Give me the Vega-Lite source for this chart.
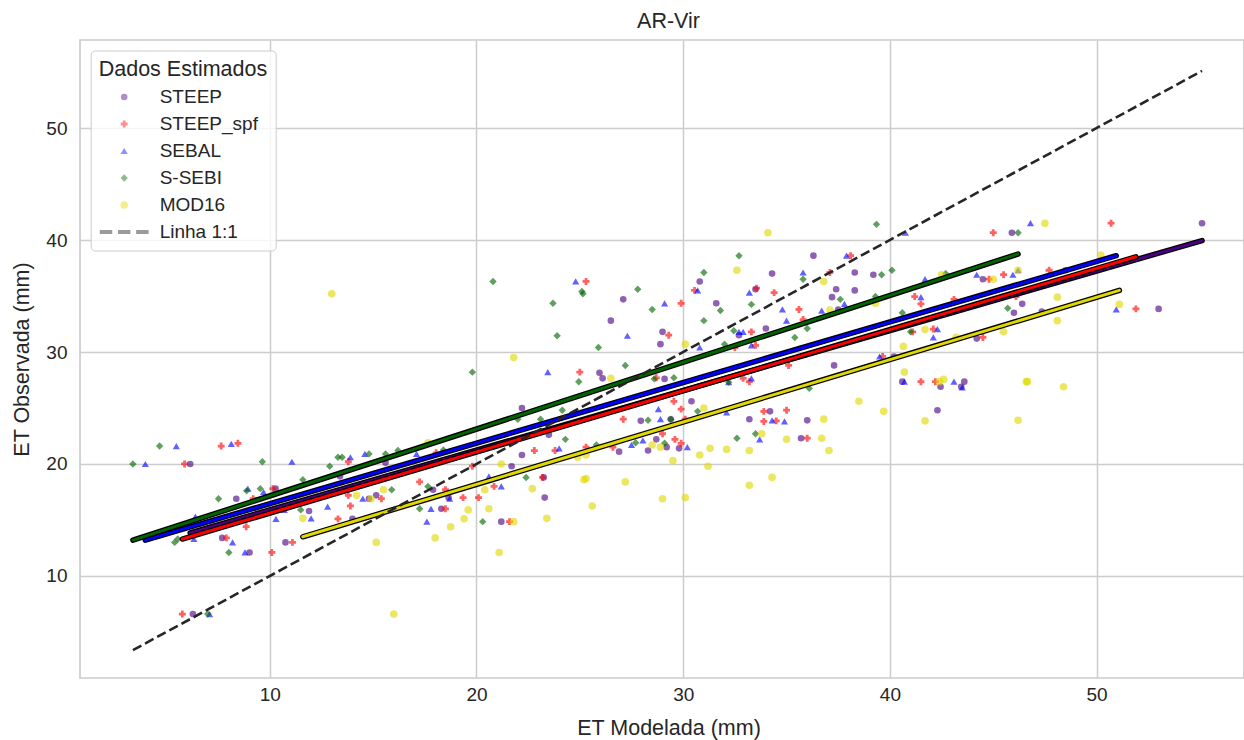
{
"$schema": "https://vega.github.io/schema/vega-lite/v6.json",
"width": 1164, "height": 638,
"autosize": {"type": "none"},
"padding": {"left": 80, "top": 40, "right": 0, "bottom": 62},
"background": "white",
"title": {"text": "AR-Vir", "fontSize": 21.5, "font": "Liberation Sans", "fontWeight": "normal", "color": "#262626", "offset": 8, "dx": 6.5},
"config": {
  "view": {"stroke": "#cccccc", "strokeWidth": 1.7},
  "axis": {"grid": true, "gridColor": "#cccccc", "gridWidth": 1.5, "domain": false, "ticks": false, "tickSize": 0,
    "labelFont": "Liberation Sans", "labelFontSize": 19, "labelColor": "#262626",
    "titleFont": "Liberation Sans", "titleFontSize": 21.5, "titleFontWeight": "normal", "titleColor": "#262626"}
},
"datasets": {
"pts": [
{"s":"STEEP","x":6.28,"y":6.6},{"s":"STEEP","x":6.15,"y":20.0},{"s":"STEEP","x":7.7,"y":13.4},{"s":"STEEP","x":8.38,"y":16.9},{"s":"STEEP","x":9.02,"y":12.1},{"s":"STEEP","x":10.28,"y":17.8},{"s":"STEEP","x":10.76,"y":13.0},{"s":"STEEP","x":11.9,"y":15.8},{"s":"STEEP","x":13.4,"y":18.9},{"s":"STEEP","x":14.0,"y":15.1},{"s":"STEEP","x":14.8,"y":16.9},{"s":"STEEP","x":15.15,"y":17.2},{"s":"STEEP","x":15.6,"y":20.1},{"s":"STEEP","x":17.9,"y":17.7},{"s":"STEEP","x":18.3,"y":16.0},{"s":"STEEP","x":18.65,"y":17.0},{"s":"STEEP","x":21.2,"y":14.85},{"s":"STEEP","x":21.7,"y":19.8},{"s":"STEEP","x":22.2,"y":20.8},{"s":"STEEP","x":22.2,"y":25.0},{"s":"STEEP","x":23.25,"y":18.8},{"s":"STEEP","x":23.3,"y":17.0},{"s":"STEEP","x":23.5,"y":22.6},{"s":"STEEP","x":25.95,"y":28.15},{"s":"STEEP","x":26.1,"y":27.65},{"s":"STEEP","x":26.5,"y":32.8},{"s":"STEEP","x":26.9,"y":21.1},{"s":"STEEP","x":27.1,"y":34.7},{"s":"STEEP","x":27.95,"y":23.85},{"s":"STEEP","x":28.3,"y":21.2},{"s":"STEEP","x":28.7,"y":22.2},{"s":"STEEP","x":28.9,"y":30.7},{"s":"STEEP","x":29.0,"y":31.8},{"s":"STEEP","x":29.1,"y":27.6},{"s":"STEEP","x":29.2,"y":21.5},{"s":"STEEP","x":29.4,"y":24.0},{"s":"STEEP","x":29.8,"y":21.4},{"s":"STEEP","x":30.4,"y":25.6},{"s":"STEEP","x":30.8,"y":36.3},{"s":"STEEP","x":31.6,"y":34.35},{"s":"STEEP","x":32.7,"y":31.5},{"s":"STEEP","x":33.2,"y":24.0},{"s":"STEEP","x":33.5,"y":35.6},{"s":"STEEP","x":34.0,"y":32.1},{"s":"STEEP","x":34.2,"y":24.7},{"s":"STEEP","x":34.3,"y":37.0},{"s":"STEEP","x":35.7,"y":22.3},{"s":"STEEP","x":36.0,"y":23.9},{"s":"STEEP","x":36.3,"y":38.6},{"s":"STEEP","x":37.2,"y":34.9},{"s":"STEEP","x":37.3,"y":28.8},{"s":"STEEP","x":37.4,"y":35.6},{"s":"STEEP","x":37.5,"y":33.8},{"s":"STEEP","x":38.3,"y":35.5},{"s":"STEEP","x":38.3,"y":37.1},{"s":"STEEP","x":39.2,"y":36.9},{"s":"STEEP","x":40.2,"y":29.6},{"s":"STEEP","x":40.6,"y":27.35},{"s":"STEEP","x":42.3,"y":24.8},{"s":"STEEP","x":42.45,"y":26.9},{"s":"STEEP","x":43.45,"y":26.9},{"s":"STEEP","x":43.6,"y":27.35},{"s":"STEEP","x":44.2,"y":31.2},{"s":"STEEP","x":44.5,"y":36.5},{"s":"STEEP","x":45.9,"y":40.65},{"s":"STEEP","x":46.0,"y":33.5},{"s":"STEEP","x":46.4,"y":34.3},{"s":"STEEP","x":47.35,"y":33.6},{"s":"STEEP","x":48.5,"y":37.3},{"s":"STEEP","x":53.0,"y":33.85},{"s":"STEEP","x":55.1,"y":41.5},
{"s":"STEEP_spf","x":5.77,"y":6.6},{"s":"STEEP_spf","x":5.88,"y":20.0},{"s":"STEEP_spf","x":7.65,"y":21.6},{"s":"STEEP_spf","x":8.46,"y":21.85},{"s":"STEEP_spf","x":7.9,"y":13.4},{"s":"STEEP_spf","x":8.86,"y":14.4},{"s":"STEEP_spf","x":9.2,"y":16.9},{"s":"STEEP_spf","x":10.1,"y":12.1},{"s":"STEEP_spf","x":10.15,"y":17.8},{"s":"STEEP_spf","x":11.1,"y":13.0},{"s":"STEEP_spf","x":13.3,"y":15.1},{"s":"STEEP_spf","x":13.8,"y":17.2},{"s":"STEEP_spf","x":13.8,"y":20.2},{"s":"STEEP_spf","x":13.9,"y":16.25},{"s":"STEEP_spf","x":15.4,"y":16.9},{"s":"STEEP_spf","x":17.25,"y":18.4},{"s":"STEEP_spf","x":18.05,"y":21.0},{"s":"STEEP_spf","x":18.5,"y":17.7},{"s":"STEEP_spf","x":18.5,"y":16.0},{"s":"STEEP_spf","x":19.35,"y":17.0},{"s":"STEEP_spf","x":19.8,"y":19.8},{"s":"STEEP_spf","x":20.1,"y":17.0},{"s":"STEEP_spf","x":20.85,"y":18.0},{"s":"STEEP_spf","x":21.6,"y":14.85},{"s":"STEEP_spf","x":22.8,"y":21.2},{"s":"STEEP_spf","x":23.2,"y":18.8},{"s":"STEEP_spf","x":23.8,"y":21.2},{"s":"STEEP_spf","x":25.0,"y":28.2},{"s":"STEEP_spf","x":25.3,"y":21.5},{"s":"STEEP_spf","x":25.3,"y":36.3},{"s":"STEEP_spf","x":26.6,"y":21.5},{"s":"STEEP_spf","x":27.1,"y":24.0},{"s":"STEEP_spf","x":28.7,"y":27.7},{"s":"STEEP_spf","x":29.0,"y":22.7},{"s":"STEEP_spf","x":29.3,"y":31.5},{"s":"STEEP_spf","x":29.55,"y":25.6},{"s":"STEEP_spf","x":29.6,"y":22.2},{"s":"STEEP_spf","x":29.9,"y":34.35},{"s":"STEEP_spf","x":29.9,"y":24.9},{"s":"STEEP_spf","x":29.9,"y":21.85},{"s":"STEEP_spf","x":30.1,"y":24.0},{"s":"STEEP_spf","x":30.55,"y":35.5},{"s":"STEEP_spf","x":32.5,"y":30.4},{"s":"STEEP_spf","x":32.9,"y":27.65},{"s":"STEEP_spf","x":33.2,"y":27.35},{"s":"STEEP_spf","x":33.3,"y":31.8},{"s":"STEEP_spf","x":33.5,"y":30.6},{"s":"STEEP_spf","x":33.55,"y":35.7},{"s":"STEEP_spf","x":33.9,"y":24.7},{"s":"STEEP_spf","x":33.9,"y":23.8},{"s":"STEEP_spf","x":34.4,"y":35.3},{"s":"STEEP_spf","x":34.5,"y":23.85},{"s":"STEEP_spf","x":35.0,"y":24.8},{"s":"STEEP_spf","x":35.1,"y":28.8},{"s":"STEEP_spf","x":35.6,"y":33.8},{"s":"STEEP_spf","x":35.8,"y":32.9},{"s":"STEEP_spf","x":36.0,"y":22.3},{"s":"STEEP_spf","x":37.1,"y":37.1},{"s":"STEEP_spf","x":38.1,"y":38.6},{"s":"STEEP_spf","x":39.65,"y":29.6},{"s":"STEEP_spf","x":41.2,"y":34.95},{"s":"STEEP_spf","x":41.5,"y":34.3},{"s":"STEEP_spf","x":41.1,"y":31.8},{"s":"STEEP_spf","x":41.5,"y":27.35},{"s":"STEEP_spf","x":42.1,"y":32.05},{"s":"STEEP_spf","x":42.2,"y":27.35},{"s":"STEEP_spf","x":43.1,"y":34.7},{"s":"STEEP_spf","x":44.5,"y":31.3},{"s":"STEEP_spf","x":44.8,"y":36.5},{"s":"STEEP_spf","x":45.0,"y":40.65},{"s":"STEEP_spf","x":45.5,"y":36.9},{"s":"STEEP_spf","x":46.1,"y":34.95},{"s":"STEEP_spf","x":47.7,"y":37.3},{"s":"STEEP_spf","x":50.7,"y":41.5},{"s":"STEEP_spf","x":51.9,"y":33.85},
{"s":"SEBAL","x":3.98,"y":20.0},{"s":"SEBAL","x":5.48,"y":21.6},{"s":"SEBAL","x":8.14,"y":21.8},{"s":"SEBAL","x":7.09,"y":6.6},{"s":"SEBAL","x":8.2,"y":13.0},{"s":"SEBAL","x":8.8,"y":12.1},{"s":"SEBAL","x":8.94,"y":17.8},{"s":"SEBAL","x":9.7,"y":17.5},{"s":"SEBAL","x":6.33,"y":13.3},{"s":"SEBAL","x":6.4,"y":15.3},{"s":"SEBAL","x":10.3,"y":15.1},{"s":"SEBAL","x":10.7,"y":15.9},{"s":"SEBAL","x":11.07,"y":20.2},{"s":"SEBAL","x":12.0,"y":15.15},{"s":"SEBAL","x":12.8,"y":16.2},{"s":"SEBAL","x":13.9,"y":20.6},{"s":"SEBAL","x":14.5,"y":16.9},{"s":"SEBAL","x":14.6,"y":20.9},{"s":"SEBAL","x":17.1,"y":20.9},{"s":"SEBAL","x":17.6,"y":14.85},{"s":"SEBAL","x":17.8,"y":16.0},{"s":"SEBAL","x":18.7,"y":16.9},{"s":"SEBAL","x":20.6,"y":18.9},{"s":"SEBAL","x":21.2,"y":18.0},{"s":"SEBAL","x":23.45,"y":28.2},{"s":"SEBAL","x":24.0,"y":21.4},{"s":"SEBAL","x":24.8,"y":36.3},{"s":"SEBAL","x":27.3,"y":31.45},{"s":"SEBAL","x":27.5,"y":21.7},{"s":"SEBAL","x":28.05,"y":22.1},{"s":"SEBAL","x":28.8,"y":24.9},{"s":"SEBAL","x":28.9,"y":24.0},{"s":"SEBAL","x":29.1,"y":34.35},{"s":"SEBAL","x":30.2,"y":21.5},{"s":"SEBAL","x":30.7,"y":35.5},{"s":"SEBAL","x":30.8,"y":30.4},{"s":"SEBAL","x":32.1,"y":24.6},{"s":"SEBAL","x":32.2,"y":27.3},{"s":"SEBAL","x":32.7,"y":31.8},{"s":"SEBAL","x":32.9,"y":31.8},{"s":"SEBAL","x":33.2,"y":35.3},{"s":"SEBAL","x":33.3,"y":30.6},{"s":"SEBAL","x":33.3,"y":27.65},{"s":"SEBAL","x":33.7,"y":22.2},{"s":"SEBAL","x":34.3,"y":23.9},{"s":"SEBAL","x":34.8,"y":33.8},{"s":"SEBAL","x":34.9,"y":23.8},{"s":"SEBAL","x":35.0,"y":32.8},{"s":"SEBAL","x":35.8,"y":37.1},{"s":"SEBAL","x":36.7,"y":33.7},{"s":"SEBAL","x":37.8,"y":34.3},{"s":"SEBAL","x":37.9,"y":38.6},{"s":"SEBAL","x":39.5,"y":29.6},{"s":"SEBAL","x":40.7,"y":27.35},{"s":"SEBAL","x":40.75,"y":40.65},{"s":"SEBAL","x":41.5,"y":34.9},{"s":"SEBAL","x":41.7,"y":36.5},{"s":"SEBAL","x":42.1,"y":31.3},{"s":"SEBAL","x":42.3,"y":32.05},{"s":"SEBAL","x":43.1,"y":27.35},{"s":"SEBAL","x":43.5,"y":26.85},{"s":"SEBAL","x":44.2,"y":36.9},{"s":"SEBAL","x":45.95,"y":36.9},{"s":"SEBAL","x":46.2,"y":37.3},{"s":"SEBAL","x":46.8,"y":41.5},{"s":"SEBAL","x":50.95,"y":33.8},
{"s":"S-SEBI","x":3.38,"y":20.0},{"s":"S-SEBI","x":4.67,"y":21.6},{"s":"S-SEBI","x":7.0,"y":6.6},{"s":"S-SEBI","x":5.4,"y":13.0},{"s":"S-SEBI","x":5.55,"y":13.3},{"s":"S-SEBI","x":7.52,"y":16.9},{"s":"S-SEBI","x":8.02,"y":12.1},{"s":"S-SEBI","x":8.88,"y":17.6},{"s":"S-SEBI","x":9.54,"y":17.8},{"s":"S-SEBI","x":9.64,"y":20.2},{"s":"S-SEBI","x":11.5,"y":15.9},{"s":"S-SEBI","x":11.6,"y":18.6},{"s":"S-SEBI","x":12.9,"y":19.8},{"s":"S-SEBI","x":13.3,"y":20.6},{"s":"S-SEBI","x":13.5,"y":20.6},{"s":"S-SEBI","x":14.8,"y":20.9},{"s":"S-SEBI","x":15.6,"y":20.9},{"s":"S-SEBI","x":15.9,"y":17.7},{"s":"S-SEBI","x":16.2,"y":21.2},{"s":"S-SEBI","x":17.25,"y":16.0},{"s":"S-SEBI","x":17.65,"y":18.0},{"s":"S-SEBI","x":18.4,"y":21.25},{"s":"S-SEBI","x":19.8,"y":28.2},{"s":"S-SEBI","x":20.3,"y":14.85},{"s":"S-SEBI","x":20.8,"y":36.3},{"s":"S-SEBI","x":22.0,"y":24.0},{"s":"S-SEBI","x":22.4,"y":18.8},{"s":"S-SEBI","x":23.1,"y":24.0},{"s":"S-SEBI","x":23.7,"y":34.35},{"s":"S-SEBI","x":23.9,"y":31.45},{"s":"S-SEBI","x":24.15,"y":24.8},{"s":"S-SEBI","x":24.3,"y":22.2},{"s":"S-SEBI","x":24.95,"y":27.35},{"s":"S-SEBI","x":25.1,"y":35.4},{"s":"S-SEBI","x":25.15,"y":35.2},{"s":"S-SEBI","x":25.8,"y":21.7},{"s":"S-SEBI","x":25.9,"y":30.4},{"s":"S-SEBI","x":27.2,"y":28.8},{"s":"S-SEBI","x":27.7,"y":21.9},{"s":"S-SEBI","x":27.8,"y":35.6},{"s":"S-SEBI","x":28.3,"y":23.9},{"s":"S-SEBI","x":28.5,"y":33.8},{"s":"S-SEBI","x":28.6,"y":27.6},{"s":"S-SEBI","x":29.1,"y":21.85},{"s":"S-SEBI","x":29.4,"y":24.0},{"s":"S-SEBI","x":29.55,"y":27.7},{"s":"S-SEBI","x":30.7,"y":24.7},{"s":"S-SEBI","x":31.0,"y":37.1},{"s":"S-SEBI","x":31.0,"y":32.8},{"s":"S-SEBI","x":31.8,"y":33.7},{"s":"S-SEBI","x":32.0,"y":30.7},{"s":"S-SEBI","x":32.2,"y":27.3},{"s":"S-SEBI","x":32.45,"y":31.9},{"s":"S-SEBI","x":32.6,"y":22.3},{"s":"S-SEBI","x":32.7,"y":38.6},{"s":"S-SEBI","x":33.3,"y":34.25},{"s":"S-SEBI","x":33.5,"y":22.7},{"s":"S-SEBI","x":35.4,"y":31.3},{"s":"S-SEBI","x":35.8,"y":36.5},{"s":"S-SEBI","x":36.0,"y":32.1},{"s":"S-SEBI","x":36.1,"y":26.75},{"s":"S-SEBI","x":37.6,"y":34.7},{"s":"S-SEBI","x":39.3,"y":34.95},{"s":"S-SEBI","x":39.35,"y":41.4},{"s":"S-SEBI","x":39.6,"y":36.9},{"s":"S-SEBI","x":40.1,"y":37.3},{"s":"S-SEBI","x":40.6,"y":33.5},{"s":"S-SEBI","x":41.0,"y":31.8},{"s":"S-SEBI","x":42.7,"y":37.0},{"s":"S-SEBI","x":45.7,"y":33.9},{"s":"S-SEBI","x":46.2,"y":40.65},
{"s":"MOD16","x":11.6,"y":15.15},{"s":"MOD16","x":13.0,"y":35.2},{"s":"MOD16","x":14.2,"y":17.2},{"s":"MOD16","x":14.9,"y":16.9},{"s":"MOD16","x":15.15,"y":13.0},{"s":"MOD16","x":15.5,"y":17.7},{"s":"MOD16","x":16.0,"y":6.6},{"s":"MOD16","x":17.65,"y":21.9},{"s":"MOD16","x":18.0,"y":13.4},{"s":"MOD16","x":18.75,"y":14.4},{"s":"MOD16","x":19.4,"y":15.1},{"s":"MOD16","x":19.6,"y":15.9},{"s":"MOD16","x":20.4,"y":17.7},{"s":"MOD16","x":20.6,"y":16.0},{"s":"MOD16","x":21.1,"y":12.1},{"s":"MOD16","x":21.2,"y":20.0},{"s":"MOD16","x":21.8,"y":29.5},{"s":"MOD16","x":21.8,"y":14.85},{"s":"MOD16","x":22.7,"y":17.8},{"s":"MOD16","x":23.4,"y":15.15},{"s":"MOD16","x":24.9,"y":20.6},{"s":"MOD16","x":25.2,"y":18.6},{"s":"MOD16","x":25.3,"y":20.8},{"s":"MOD16","x":25.3,"y":18.7},{"s":"MOD16","x":25.6,"y":16.25},{"s":"MOD16","x":26.5,"y":27.65},{"s":"MOD16","x":27.2,"y":18.4},{"s":"MOD16","x":28.5,"y":21.7},{"s":"MOD16","x":28.9,"y":21.5},{"s":"MOD16","x":29.0,"y":16.9},{"s":"MOD16","x":29.5,"y":20.3},{"s":"MOD16","x":30.1,"y":30.7},{"s":"MOD16","x":30.1,"y":17.0},{"s":"MOD16","x":30.8,"y":20.8},{"s":"MOD16","x":31.0,"y":25.0},{"s":"MOD16","x":31.2,"y":19.8},{"s":"MOD16","x":31.3,"y":21.4},{"s":"MOD16","x":32.1,"y":21.3},{"s":"MOD16","x":32.6,"y":37.3},{"s":"MOD16","x":33.2,"y":21.2},{"s":"MOD16","x":33.2,"y":18.1},{"s":"MOD16","x":33.8,"y":22.7},{"s":"MOD16","x":34.1,"y":40.65},{"s":"MOD16","x":34.3,"y":18.8},{"s":"MOD16","x":35.0,"y":22.2},{"s":"MOD16","x":36.7,"y":22.3},{"s":"MOD16","x":36.8,"y":24.0},{"s":"MOD16","x":36.8,"y":36.3},{"s":"MOD16","x":37.05,"y":21.2},{"s":"MOD16","x":37.1,"y":33.75},{"s":"MOD16","x":38.5,"y":25.6},{"s":"MOD16","x":39.3,"y":34.35},{"s":"MOD16","x":39.7,"y":24.7},{"s":"MOD16","x":40.65,"y":30.5},{"s":"MOD16","x":40.7,"y":28.2},{"s":"MOD16","x":41.7,"y":32.0},{"s":"MOD16","x":41.7,"y":23.85},{"s":"MOD16","x":42.4,"y":27.35},{"s":"MOD16","x":42.6,"y":27.55},{"s":"MOD16","x":42.5,"y":36.9},{"s":"MOD16","x":43.2,"y":31.3},{"s":"MOD16","x":45.0,"y":36.5},{"s":"MOD16","x":45.5,"y":31.8},{"s":"MOD16","x":46.2,"y":37.3},{"s":"MOD16","x":46.2,"y":23.9},{"s":"MOD16","x":46.6,"y":27.35},{"s":"MOD16","x":46.65,"y":27.35},{"s":"MOD16","x":47.5,"y":41.5},{"s":"MOD16","x":48.1,"y":34.9},{"s":"MOD16","x":48.1,"y":32.8},{"s":"MOD16","x":48.4,"y":26.9},{"s":"MOD16","x":50.2,"y":38.65},{"s":"MOD16","x":51.1,"y":34.25}
],
"reg": [
{"s":"STEEP","x":6.15,"y":13.85},{"s":"STEEP","x":55.1,"y":39.95},
{"s":"STEEP_spf","x":5.77,"y":13.3},{"s":"STEEP_spf","x":51.9,"y":38.5},
{"s":"SEBAL","x":3.98,"y":13.2},{"s":"SEBAL","x":50.95,"y":38.6},
{"s":"S-SEBI","x":3.38,"y":13.2},{"s":"S-SEBI","x":46.2,"y":38.75},
{"s":"MOD16","x":11.6,"y":13.5},{"s":"MOD16","x":51.1,"y":35.5}
],
"one": [{"x":3.38,"y":3.38},{"x":55.1,"y":55.1}]
},
"layer": [
{"data": {"name": "pts"},
 "mark": {"type": "point", "filled": true, "strokeWidth": 0},
 "encoding": {
  "x": {"field": "x", "type": "quantitative", "scale": {"domain": [0.82, 57.13], "nice": false, "zero": false},
        "axis": {"title": "ET Modelada (mm)", "values": [10, 20, 30, 40, 50], "labelPadding": 7, "titlePadding": 13, "titleX": 588.5}},
  "y": {"field": "y", "type": "quantitative", "scale": {"domain": [0.89, 57.86], "nice": false, "zero": false},
        "axis": {"title": "ET Observada (mm)", "values": [10, 20, 30, 40, 50], "labelPadding": 13, "titlePadding": 12}},
  "size": {"field": "s", "type": "nominal", "legend": null,
    "scale": {"domain": ["STEEP", "STEEP_spf", "SEBAL", "S-SEBI", "MOD16", "Linha 1:1"], "range": [44, 62, 46, 46, 44, 44]}},
  "opacity": {"field": "s", "type": "nominal", "title": "Dados Estimados",
    "scale": {"domain": ["STEEP", "STEEP_spf", "SEBAL", "S-SEBI", "MOD16", "Linha 1:1"], "range": [0.62, 0.62, 0.62, 0.62, 0.62, 1]}},
  "color": {"field": "s", "type": "nominal", "title": "Dados Estimados",
    "scale": {"domain": ["STEEP", "STEEP_spf", "SEBAL", "S-SEBI", "MOD16", "Linha 1:1"],
              "range": ["#4b0082", "#ff0000", "#0000ff", "#006400", "#e0d800", "#1a1a1a"]},
    "legend": {"orient": "none", "legendX": 10.7, "legendY": 10.5, "padding": 8,
      "fillColor": "rgba(255,255,255,0.8)", "strokeColor": "#cccccc", "cornerRadius": 4,
      "titleFont": "Liberation Sans", "titleFontSize": 21.5, "titleFontWeight": "normal", "titleColor": "#262626", "titlePadding": 7.5,
      "labelFont": "Liberation Sans", "labelFontSize": 19, "labelColor": "#262626", "labelOffset": 26,
      "symbolSize": 40, "symbolOffset": 16, "rowPadding": 7,
      "symbolOpacity": {"expr": "datum.value === 'Linha 1:1' ? 1 : 0.62"}}},
  "shape": {"field": "s", "type": "nominal", "title": "Dados Estimados",
    "scale": {"domain": ["STEEP", "STEEP_spf", "SEBAL", "S-SEBI", "MOD16", "Linha 1:1"],
              "range": ["circle", "cross", "triangle-up", "diamond", "circle", "M-6.2,-0.5H-3.04V0.5H-6.2Z M-1.58,-0.5H1.58V0.5H-1.58Z M3.04,-0.5H6.2V0.5H3.04Z"]}}
 }},
{"data": {"name": "reg"}, "transform": [{"filter": "datum.s === 'STEEP'"}], "mark": {"type": "line", "color": "black", "strokeWidth": 5.5, "strokeCap": "round"}, "encoding": {"x": {"field": "x", "type": "quantitative"}, "y": {"field": "y", "type": "quantitative"}}},
{"data": {"name": "reg"}, "transform": [{"filter": "datum.s === 'STEEP'"}], "mark": {"type": "line", "color": "#4b0082", "strokeWidth": 3, "strokeCap": "round"}, "encoding": {"x": {"field": "x", "type": "quantitative"}, "y": {"field": "y", "type": "quantitative"}}},
{"data": {"name": "reg"}, "transform": [{"filter": "datum.s === 'STEEP_spf'"}], "mark": {"type": "line", "color": "black", "strokeWidth": 5.5, "strokeCap": "round"}, "encoding": {"x": {"field": "x", "type": "quantitative"}, "y": {"field": "y", "type": "quantitative"}}},
{"data": {"name": "reg"}, "transform": [{"filter": "datum.s === 'STEEP_spf'"}], "mark": {"type": "line", "color": "#ff0000", "strokeWidth": 3, "strokeCap": "round"}, "encoding": {"x": {"field": "x", "type": "quantitative"}, "y": {"field": "y", "type": "quantitative"}}},
{"data": {"name": "reg"}, "transform": [{"filter": "datum.s === 'SEBAL'"}], "mark": {"type": "line", "color": "black", "strokeWidth": 5.5, "strokeCap": "round"}, "encoding": {"x": {"field": "x", "type": "quantitative"}, "y": {"field": "y", "type": "quantitative"}}},
{"data": {"name": "reg"}, "transform": [{"filter": "datum.s === 'SEBAL'"}], "mark": {"type": "line", "color": "#0000ff", "strokeWidth": 3, "strokeCap": "round"}, "encoding": {"x": {"field": "x", "type": "quantitative"}, "y": {"field": "y", "type": "quantitative"}}},
{"data": {"name": "reg"}, "transform": [{"filter": "datum.s === 'S-SEBI'"}], "mark": {"type": "line", "color": "black", "strokeWidth": 5.5, "strokeCap": "round"}, "encoding": {"x": {"field": "x", "type": "quantitative"}, "y": {"field": "y", "type": "quantitative"}}},
{"data": {"name": "reg"}, "transform": [{"filter": "datum.s === 'S-SEBI'"}], "mark": {"type": "line", "color": "#006400", "strokeWidth": 3, "strokeCap": "round"}, "encoding": {"x": {"field": "x", "type": "quantitative"}, "y": {"field": "y", "type": "quantitative"}}},
{"data": {"name": "reg"}, "transform": [{"filter": "datum.s === 'MOD16'"}], "mark": {"type": "line", "color": "black", "strokeWidth": 5.5, "strokeCap": "round"}, "encoding": {"x": {"field": "x", "type": "quantitative"}, "y": {"field": "y", "type": "quantitative"}}},
{"data": {"name": "reg"}, "transform": [{"filter": "datum.s === 'MOD16'"}], "mark": {"type": "line", "color": "#e0d800", "strokeWidth": 3, "strokeCap": "round"}, "encoding": {"x": {"field": "x", "type": "quantitative"}, "y": {"field": "y", "type": "quantitative"}}},
{"data": {"name": "one"}, "mark": {"type": "line", "color": "#262626", "strokeWidth": 2.6, "strokeDash": [9.6, 4.2]}, "encoding": {"x": {"field": "x", "type": "quantitative"}, "y": {"field": "y", "type": "quantitative"}}}
]
}
